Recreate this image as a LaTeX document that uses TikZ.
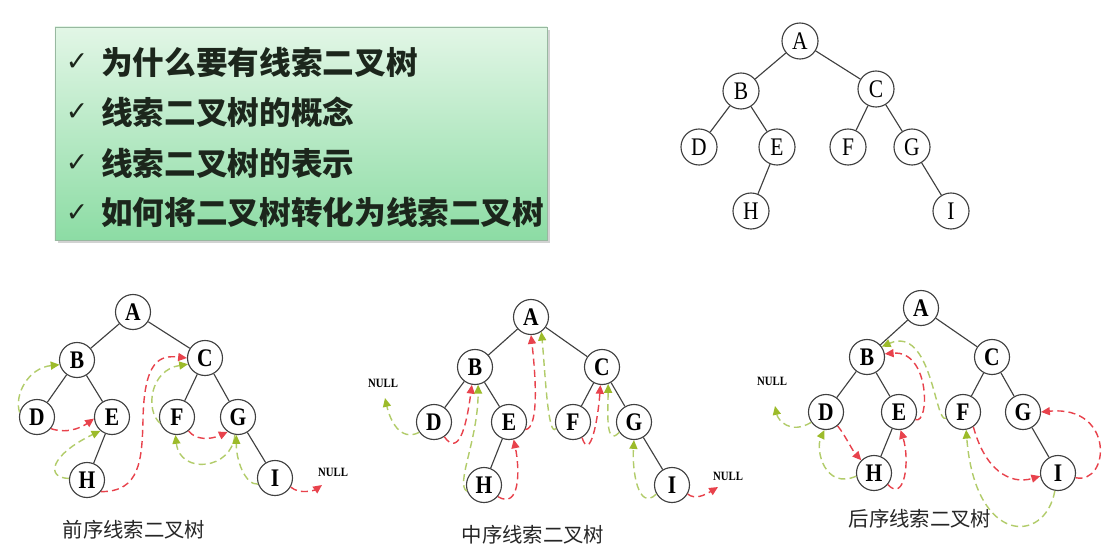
\documentclass[tikz,border=0pt]{standalone}
\usepackage{fontspec}
\usepackage{xcolor}
\usepackage{tikz}
\usetikzlibrary{arrows.meta, shadows}

\setmainfont{Liberation Serif}
\newfontfamily\letterfont[FakeStretch=0.85]{Liberation Serif}
\newfontfamily\cjk{Noto Sans CJK SC}
\newfontfamily\symfont{DejaVu Sans}

\definecolor{thrred}{HTML}{E8424C}
\definecolor{thrgreen}{HTML}{B2CC6A}
\definecolor{tipgreen}{HTML}{9CBB2A}
\definecolor{paneltop}{HTML}{E2F6E6}
\definecolor{panelbot}{HTML}{8CDCA4}
\definecolor{panelline}{HTML}{98B8A0}
\definecolor{inktext}{HTML}{1C261C}

\begin{document}
\begin{tikzpicture}[
  x=0.025cm, y=-0.025cm,
  vert/.style={draw=black!75, line width=0.8pt, circle, fill=white, minimum size=0.9cm, inner sep=0pt, font=\letterfont\fontsize{18}{18}\selectfont},
  bvert/.style={vert, minimum size=0.875cm, font=\letterfont\bfseries\fontsize{18}{18}\selectfont},
  link/.style={black!75, line width=0.8pt},
  thread/.style={line width=1pt, dash pattern=on 5pt off 3pt},
  pred/.style={thread, thrgreen, -{Triangle[length=2.2mm, width=2mm, color=tipgreen]}},
  succ/.style={thread, thrred, -{Triangle[length=2.2mm, width=2mm]}},
  nul/.style={font=\letterfont\bfseries\fontsize{9}{9}\selectfont, inner sep=1pt},
  caption/.style={font=\cjk\fontsize{14.5}{14.5}\selectfont, text=black!85},
  tick/.style={font=\symfont\fontsize{19}{19}\selectfont, text=inktext},
  topic/.style={anchor=west, inner sep=0pt, font=\cjk\bfseries\fontsize{22.5}{22.5}\selectfont, text=inktext},
]
\useasboundingbox[fill=white] (0,0) rectangle (1118,554);

% topics
\node[draw=panelline, top color=paneltop, bottom color=panelbot, minimum width=12.3cm, minimum height=5.325cm,
  drop shadow={shadow xshift=2pt, shadow yshift=-2pt, opacity=0.35}] (panel) at (301,133.5) {};
\foreach \y/\txt [count=\i] in {62/为什么要有线索二叉树, 112/线索二叉树的概念, 163/线索二叉树的表示, 213/如何将二叉树转化为线索二叉树}{
  \node[tick] (tick\i) at (77,\y) {✓};
  \node[topic] (topic\i) at (101,\y) {\txt};
}

% trees
\foreach \n/\x/\y in {A/800/41, B/741/91, C/876/89, D/699/147, E/777/147, F/848/147, G/912/147, H/751/211, I/951/211}
  \node[vert] (top\n) at (\x,\y) {\n};
\foreach \n/\x/\y in {A/133/312, B/77/360, C/205/358, D/37/417, E/112/417, F/177/417, G/238/417, H/87/480, I/275/478}
  \node[bvert] (pre\n) at (\x,\y) {\n};
\foreach \n/\x/\y in {A/531/317, B/475/367, C/602/367, D/434/422, E/509/422, F/573/422, G/634/422, H/484/485, I/672/485}
  \node[bvert] (in\n) at (\x,\y) {\n};
\foreach \n/\x/\y in {A/921/308, B/867/357, C/992/357, D/826/412, E/899/412, F/963/412, G/1023/412, H/874/473, I/1058/473}
  \node[bvert] (post\n) at (\x,\y) {\n};
\foreach \t in {top,pre,in,post}{
  \foreach \u/\v in {A/B, A/C, B/D, B/E, E/H, C/F, C/G, G/I}
    \draw[link] (\t\u) -- (\t\v);
}

\node[nul] (preNull) at (333,472) {NULL};
\node[nul] (inNullL) at (383,383) {NULL};
\node[nul] (inNullR) at (728,476) {NULL};
\node[nul] (postNull) at (772,381) {NULL};
\coordinate (preTip) at (322,485);
\coordinate (inTipL) at (385,398);
\coordinate (inTipR) at (718,487);
\coordinate (postTip) at (775,406);

\node[caption] (preCap) at (134,530) {前序线索二叉树};
\node[caption] (inCap) at (533,535) {中序线索二叉树};
\node[caption] (postCap) at (920,519) {后序线索二叉树};

% preorder threads
\draw[pred] (preD.165) .. controls (14,395) and (28,368) .. (preB.195);
\draw[succ] (preD.-40) .. controls (70,435) and (85,425) .. (preE.185);
\draw[pred] (preH.175) .. controls (45,478) and (50,455) .. (preE.-130);
\draw[succ] (preH.-40) .. controls (140,492) and (142,460) .. (143,420) .. controls (144,360) and (160,355) .. (preC.180);
\draw[pred] (preF.200) .. controls (145,410) and (150,370) .. (preC.-160);
\draw[succ] (preF.-50) .. controls (195,440) and (210,440) .. (preG.-125);
\draw[pred] (preG.-100) .. controls (232,470) and (180,475) .. (preF.-95);
\draw[pred] (preI.200) .. controls (245,485) and (236,460) .. (preG.-95);
\draw[succ] (preI.-30) .. controls (300,495) and (315,490) .. (preTip);

% inorder threads
\draw[pred] (inD.-145) .. controls (400,442) and (390,420) .. (inTipL);
\draw[succ] (inD.-55) .. controls (458,456) and (466,430) .. (inB.-100);
\draw[pred] (inH.200) .. controls (455,485) and (478,440) .. (inB.-80);
\draw[succ] (inH.-40) .. controls (520,510) and (520,470) .. (inE.-75);
\draw[succ] (inE.-25) .. controls (540,428) and (535,370) .. (inA.-90);
\draw[pred] (inF.200) .. controls (548,440) and (545,370) .. (inA.-55);
\draw[succ] (inF.-60) .. controls (590,462) and (598,420) .. (inC.-95);
\draw[pred] (inG.-145) .. controls (605,448) and (608,410) .. (inC.-70);
\draw[pred] (inI.-150) .. controls (638,512) and (632,470) .. (inG.-90);
\draw[succ] (inI.-30) .. controls (695,500) and (705,495) .. (inTipR);

% postorder threads
\draw[pred] (postD.-145) .. controls (790,435) and (778,420) .. (postTip);
\draw[succ] (postD.-50) .. controls (845,435) and (852,450) .. (postH.135);
\draw[pred] (postH.190) .. controls (825,490) and (815,450) .. (postD.-95);
\draw[succ] (postH.-40) .. controls (905,503) and (910,460) .. (postE.-85);
\draw[succ] (postE.-25) .. controls (930,425) and (930,350) .. (postB.10);
\draw[pred] (postF.200) .. controls (935,425) and (932,325) .. (postB.35);
\draw[succ] (postF.-55) .. controls (985,470) and (1010,485) .. (postI.190);
\draw[succ] (postI.-15) .. controls (1110,485) and (1115,405) .. (postG.0);
\draw[pred] (postI.-100) .. controls (1045,545) and (975,545) .. (postF.-80);
\end{tikzpicture}
\end{document}
